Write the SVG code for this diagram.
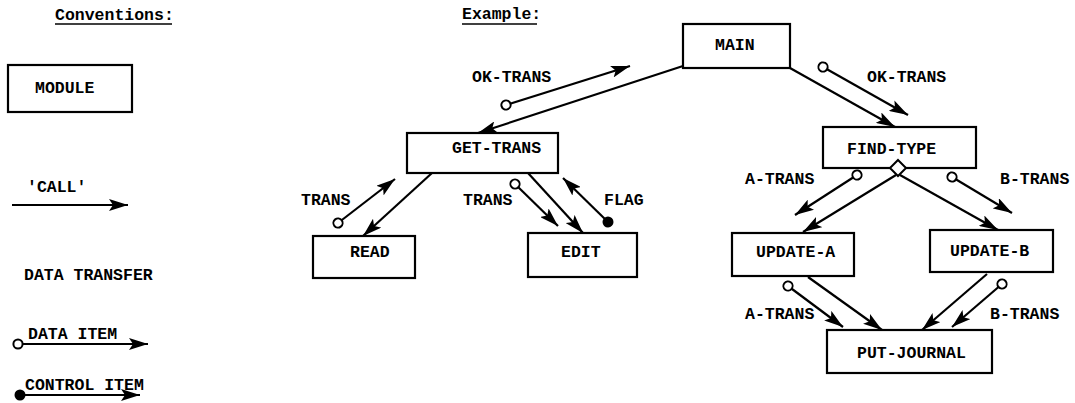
<svg xmlns="http://www.w3.org/2000/svg" width="1075" height="403" viewBox="0 0 1075 403">
<style>
text{font-family:"Liberation Mono","DejaVu Sans Mono",monospace;font-weight:bold;font-size:16.5px;fill:#000}
.box{fill:#fff;stroke:#000;stroke-width:2.2}
.c{fill:none;stroke:#000;stroke-width:2.2}
.ul{stroke:#000;stroke-width:1.5}
</style>
<defs>
<marker id="ah" markerUnits="userSpaceOnUse" markerWidth="20" markerHeight="12" refX="19" refY="6" orient="auto">
<path d="M0,0 L19,6 L0,12 L4,6 z" fill="#000"/>
</marker>
<marker id="od" markerUnits="userSpaceOnUse" markerWidth="14" markerHeight="14" refX="7" refY="7" orient="auto">
<circle cx="7" cy="7" r="4.6" fill="#fff" stroke="#000" stroke-width="2"/>
</marker>
<marker id="fd" markerUnits="userSpaceOnUse" markerWidth="14" markerHeight="14" refX="7" refY="7" orient="auto">
<circle cx="7" cy="7" r="5.5" fill="#000"/>
</marker>
</defs>
<rect width="1075" height="403" fill="#fff"/>

<g id="legend">
<text x="55" y="20">Conventions:</text>
<line class="ul" x1="55" y1="24" x2="172" y2="24"/>
<rect class="box" x="8" y="65" width="124" height="47"/>
<text x="35" y="93">MODULE</text>
<text x="27" y="192">'CALL'</text>
<line class="c" x1="12" y1="205" x2="128" y2="205" marker-end="url(#ah)"/>
<text x="24" y="280">DATA TRANSFER</text>
<text x="28" y="339">DATA ITEM</text>
<line class="c" x1="18" y1="344" x2="148" y2="344" marker-start="url(#od)" marker-end="url(#ah)"/>
<text x="25" y="390">CONTROL ITEM</text>
<line class="c" x1="20" y1="395" x2="140" y2="395" marker-start="url(#fd)" marker-end="url(#ah)"/>
<text x="462" y="19">Example:</text>
<line class="ul" x1="462" y1="24" x2="537" y2="24"/>
</g>

<g id="connectors">
<line class="c" x1="683" y1="66" x2="478" y2="133" marker-end="url(#ah)"/>
<line class="c" x1="506" y1="105" x2="630" y2="66" marker-start="url(#od)" marker-end="url(#ah)"/>
<line class="c" x1="790" y1="68" x2="895" y2="127" marker-end="url(#ah)"/>
<line class="c" x1="823" y1="67" x2="908" y2="115" marker-start="url(#od)" marker-end="url(#ah)"/>
<line class="c" x1="432" y1="173" x2="363" y2="236" marker-end="url(#ah)"/>
<line class="c" x1="338" y1="223" x2="395" y2="179" marker-start="url(#od)" marker-end="url(#ah)"/>
<line class="c" x1="528" y1="173" x2="583" y2="233" marker-end="url(#ah)"/>
<line class="c" x1="515" y1="184" x2="558" y2="226" marker-start="url(#od)" marker-end="url(#ah)"/>
<line class="c" x1="608" y1="222" x2="563" y2="178" marker-start="url(#fd)" marker-end="url(#ah)"/>
<line class="c" x1="896" y1="175" x2="803" y2="232" marker-end="url(#ah)"/>
<line class="c" x1="857" y1="175" x2="795" y2="215" marker-start="url(#od)" marker-end="url(#ah)"/>
<line class="c" x1="900" y1="175" x2="998" y2="230" marker-end="url(#ah)"/>
<line class="c" x1="952" y1="177" x2="1012" y2="213" marker-start="url(#od)" marker-end="url(#ah)"/>
<line class="c" x1="808" y1="277" x2="882" y2="330" marker-end="url(#ah)"/>
<line class="c" x1="788" y1="286" x2="843" y2="327" marker-start="url(#od)" marker-end="url(#ah)"/>
<line class="c" x1="987" y1="274" x2="922" y2="330" marker-end="url(#ah)"/>
<line class="c" x1="1002" y1="284" x2="952" y2="327" marker-start="url(#od)" marker-end="url(#ah)"/>
<text x="472" y="82">OK-TRANS</text>
<text x="867" y="82">OK-TRANS</text>
<text x="301" y="205">TRANS</text>
<text x="463" y="205">TRANS</text>
<text x="604" y="205">FLAG</text>
<text x="745" y="184">A-TRANS</text>
<text x="1000" y="184">B-TRANS</text>
<text x="745" y="319">A-TRANS</text>
<text x="990" y="319">B-TRANS</text>
</g>

<g id="main"><rect class="box" x="683" y="24" width="107" height="44"/><text x="715" y="50">MAIN</text></g>
<g id="get-trans"><rect class="box" x="407" y="133" width="151" height="40"/><text x="452" y="153">GET-TRANS</text></g>
<g id="read"><rect class="box" x="313" y="236" width="102" height="42"/><text x="350" y="257">READ</text></g>
<g id="edit"><rect class="box" x="528" y="233" width="109" height="44"/><text x="561" y="257">EDIT</text></g>
<g id="find-type"><rect class="box" x="823" y="127" width="153" height="41"/><text x="847" y="154">FIND-TYPE</text>
<path d="M898,160 L906,168 L898,176 L890,168 z" fill="#fff" stroke="#000" stroke-width="2"/></g>
<g id="update-a"><rect class="box" x="732" y="233" width="122" height="43"/><text x="756" y="257">UPDATE-A</text></g>
<g id="update-b"><rect class="box" x="930" y="230" width="123" height="42"/><text x="950" y="256">UPDATE-B</text></g>
<g id="put-journal"><rect class="box" x="827" y="330" width="165" height="43"/><text x="857" y="358">PUT-JOURNAL</text></g>
</svg>
